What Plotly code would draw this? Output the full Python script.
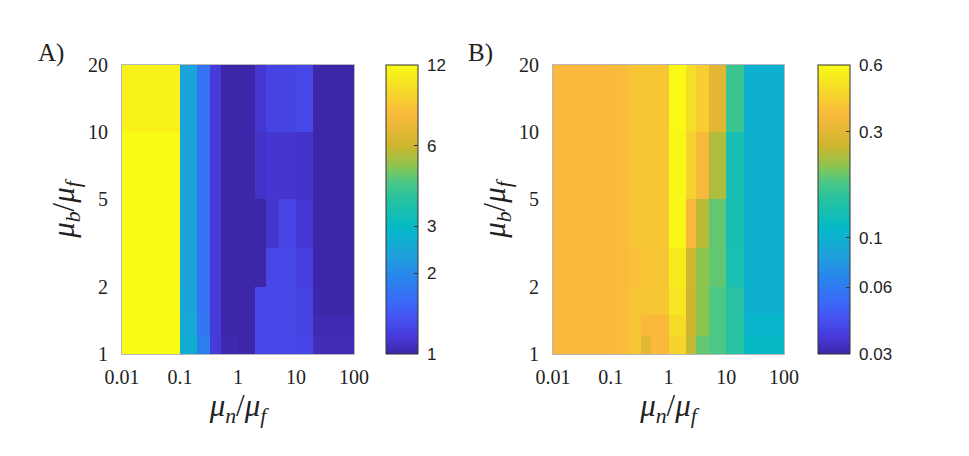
import numpy as np
import plotly.graph_objects as go

# cell edges of the pcolor grid (mu_n/mu_f along x, mu_b/mu_f along y)
mu_n_edges = [0.01, 0.1, 0.2, 1 / 3, 0.5, 1, 2, 3, 5, 10, 20, 100]
mu_b_edges = [1, 1.2, 1.5, 2, 3, 5, 10, 20]

# panel A, rows from mu_b = 1 upward, 11 cells per row
ratio_a = [
    [12, 2.6, 1.85, 1.16, 1.02, 0.98, 1.27, 1.27, 1.27, 1.25, 1.05],
    [12, 2.5, 1.72, 1.16, 1.0, 1.0, 1.27, 1.27, 1.27, 1.23, 1.03],
    [12, 2.45, 1.68, 1.16, 1.0, 1.0, 1.26, 1.27, 1.27, 1.23, 1.0],
    [12, 2.42, 1.68, 1.16, 1.0, 1.0, 1.0, 1.26, 1.26, 1.2, 1.0],
    [12, 2.42, 1.68, 1.16, 1.0, 1.0, 0.97, 1.12, 1.24, 1.13, 1.0],
    [12, 2.42, 1.68, 1.16, 1.0, 1.0, 1.1, 1.13, 1.12, 1.1, 1.0],
    [11.3, 2.42, 1.68, 1.16, 1.0, 1.0, 1.13, 1.23, 1.23, 1.27, 1.0],
]

# panel B
ratio_b = [
    [0.36, 0.365, 0.39, 0.30, 0.36, 0.44, 0.25, 0.19, 0.177, 0.15, 0.112],
    [0.36, 0.365, 0.39, 0.36, 0.36, 0.47, 0.26, 0.21, 0.177, 0.148, 0.106],
    [0.36, 0.365, 0.39, 0.40, 0.40, 0.51, 0.26, 0.21, 0.177, 0.148, 0.10],
    [0.36, 0.365, 0.38, 0.40, 0.40, 0.53, 0.27, 0.21, 0.19, 0.132, 0.10],
    [0.36, 0.365, 0.39, 0.40, 0.40, 0.58, 0.35, 0.245, 0.19, 0.131, 0.10],
    [0.36, 0.365, 0.39, 0.40, 0.40, 0.58, 0.44, 0.35, 0.235, 0.131, 0.10],
    [0.36, 0.365, 0.39, 0.40, 0.40, 0.59, 0.48, 0.42, 0.30, 0.165, 0.10],
]

ticks_a = [1, 2, 3, 6, 12]
ticks_b = [0.03, 0.06, 0.1, 0.3, 0.6]

# parula-like colormap
parula = [
    [0.00, "rgb(62,38,168)"],
    [0.06, "rgb(70,58,218)"],
    [0.12, "rgb(71,80,240)"],
    [0.18, "rgb(58,105,248)"],
    [0.27, "rgb(40,135,235)"],
    [0.34, "rgb(30,160,220)"],
    [0.435, "rgb(5,185,200)"],
    [0.54, "rgb(40,195,160)"],
    [0.60, "rgb(80,200,130)"],
    [0.65, "rgb(140,197,80)"],
    [0.72, "rgb(205,182,45)"],
    [0.83, "rgb(250,185,60)"],
    [0.92, "rgb(245,220,40)"],
    [1.00, "rgb(249,251,20)"],
]

serif = "Liberation Serif"
sans = "Liberation Sans"
W, H = 969, 456
OFF = 8  # page body margin

def px_x(p):
    return (p - OFF) / W

def px_y(p):
    return 1 - (p - OFF) / H

fig = go.Figure()

def add_panel(z, ticks, xa, ya, cb_left):
    fig.add_trace(go.Heatmap(
        x=mu_n_edges, y=mu_b_edges, z=np.log10(np.array(z)),
        xaxis=xa, yaxis=ya,
        colorscale=parula,
        zmin=np.log10(ticks[0]), zmax=np.log10(ticks[-1]),
        colorbar=dict(
            x=px_x(cb_left), xanchor="left",
            y=px_y((65 + 354) / 2), yanchor="middle",
            len=289, lenmode="pixels",
            thickness=32, thicknessmode="pixels",
            outlinewidth=1, outlinecolor="#333333",
            tickvals=np.log10(ticks), ticktext=[" " + str(t) for t in ticks],
            ticks="inside", ticklen=4, tickcolor="#333333",
            tickfont=dict(family=sans, size=17, color="#222222"),
            xpad=0, ypad=0,
        ),
        hoverinfo="skip",
    ))

add_panel(ratio_a, ticks_a, "x", "y", 386)
add_panel(ratio_b, ticks_b, "x2", "y2", 818)

xtitle = "<i>μ<sub>n</sub></i>/<i>μ<sub>f</sub></i>"
ytitle = "<i>μ<sub>b</sub></i>/<i>μ<sub>f</sub></i>"

axis_common = dict(
    showgrid=False, zeroline=False, ticks="", automargin=False,
    showline=True, linecolor="#b8b8b8", linewidth=1, mirror=True,
    tickfont=dict(family=serif, size=20, color="#222222"),
)
xcommon = dict(axis_common, type="log", range=[-2, 2],
               tickvals=[0.01, 0.1, 1, 10, 100],
               ticktext=["0.01", "0.1", "1", "10", "100"],
               ticklabelstandoff=5,
               title=dict(text=xtitle, font=dict(family=serif, size=31, color="#222222"), standoff=0))
ycommon = dict(axis_common, type="log", range=[0, np.log10(20)],
               tickvals=[1, 2, 5, 10, 20],
               ticktext=["1", "2", "5", "10", "20"],
               ticklabelstandoff=9,
               title=dict(text=ytitle, font=dict(family=serif, size=31, color="#222222"), standoff=4))

ydom = [px_y(354), px_y(65)]
fig.update_layout(
    width=W, height=H,
    margin=dict(l=0, r=0, t=0, b=0, autoexpand=False),
    paper_bgcolor="white", plot_bgcolor="white",
    xaxis=dict(xcommon, domain=[px_x(122), px_x(354)], anchor="y"),
    yaxis=dict(ycommon, domain=ydom, anchor="x"),
    xaxis2=dict(xcommon, domain=[px_x(553), px_x(784)], anchor="y2"),
    yaxis2=dict(ycommon, domain=ydom, anchor="x2"),
    showlegend=False,
    annotations=[
        dict(text="A)", x=px_x(36), y=px_y(53), xref="paper", yref="paper",
             xanchor="left", yanchor="middle", showarrow=False,
             font=dict(family=serif, size=25, color="#222222")),
        dict(text="B)", x=px_x(466), y=px_y(53), xref="paper", yref="paper",
             xanchor="left", yanchor="middle", showarrow=False,
             font=dict(family=serif, size=25, color="#222222")),
    ],
)

fig.write_html("out.html")
